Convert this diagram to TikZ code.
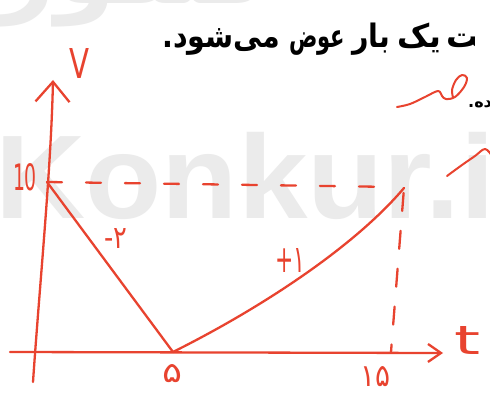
\documentclass[tikz,border=0pt]{standalone}
\usepackage{fontspec}
\usepackage{graphicx}
\usetikzlibrary{arrows.meta}
\TeXXeTstate=1
\setmainfont{DejaVu Sans}
\newfontfamily\arabicfont[Script=Arabic]{DejaVu Sans}
\newfontfamily\markfont{Liberation Sans}
\definecolor{penred}{HTML}{E8432F}
\definecolor{markgray}{HTML}{EBEBEB}
\newcommand{\hand}[3]{\resizebox{#1pt}{#2pt}{#3}}
\newcommand{\bookword}[2]{\resizebox{#1pt}{31pt}{\rule{0pt}{24pt}\arabicfont\bfseries\fontsize{25}{25}\selectfont\beginR #2\endR}}

\begin{document}
\begin{tikzpicture}[x=1pt, y=-1pt]
	% Styles
	\tikzstyle{pen} = [draw=penred, line width=2.3pt, line cap=round, line join=round]
	\tikzstyle{guide} = [pen, dash pattern=on 15pt off 24pt]
	\tikzstyle{axis} = [pen, -{Straight Barb[length=13pt,width=18pt]}]
	\tikzstyle{label} = [text=penred, inner sep=0pt]
	\tikzstyle{print} = [inner sep=0pt, anchor=base west]
	\useasboundingbox (0,0) rectangle (490,396);
	\fill[white] (0,0) rectangle (490,396);

	% Watermarks
	\node[inner sep=0pt, anchor=base west, text=markgray, font=\markfont\bfseries\fontsize{119}{119}\selectfont] (wmain) at (-5,218) {\scalebox{1.05}[1]{Konkur.in}};
	\node[inner sep=0pt, anchor=base east, text=markgray] (wtop) at (268,4) {\resizebox{268pt}{!}{\arabicfont\bfseries\beginR کنکور\endR}};

	% Book text
	\node[print] (w1) at (162,47) {\bookword{118}{می‌شود.}};
	\node[print] (w2) at (289,47) {\bookword{56}{عوض}};
	\node[print] (w3) at (352,47) {\bookword{38}{بار}};
	\node[print] (w4) at (397,47) {\bookword{44}{یک}};
	\begin{scope}
		\clip (0,0) rectangle (474,80);
		\node[print] (w5) at (446,47) {\bookword{80}{جهت}};
	\end{scope}
	\node[print, font=\arabicfont\bfseries\fontsize{16}{16}\selectfont] (line2) at (468,107) {\beginR شده.\endR};

	% Points
	\coordinate (vbot) at (33,382);
	\coordinate (vtop) at (53,80);
	\coordinate (hleft) at (10,352);
	\coordinate (hright) at (443,353);
	\coordinate (A) at (47,182);
	\coordinate (B) at (173,352);
	\coordinate (C) at (404,188);
	\coordinate (Cdash) at (396,187);
	\coordinate (Cfoot) at (391,352);

	% Axes
	\draw[pen, -{Straight Barb[length=20pt,width=34pt]}] (vbot) .. controls (40,280) and (51,170) .. (vtop);
	\draw[axis] (hleft) -- (hright);

	% Graph
	\draw[guide] (A) -- (Cdash);
	\draw[guide, dash pattern=on 18pt off 20pt, dash phase=-5pt] (C) -- (Cfoot);
	\draw[pen] (A) -- (B);
	\draw[pen] (B) .. controls (263,307) and (355,246) .. (C);

	% Labels
	\node[label] (vlab) at (80,63) {\hand{20}{30}{V}};
	\node[label] (tlab) at (467,340) {\hand{26}{28}{t}};
	\node[label] (ten) at (25,177) {\hand{24}{27}{10}};
	\node[label] (slope1) at (116,238) {\hand{23}{20}{-{\arabicfont ۲}}};
	\node[label] (slope2) at (290,260) {\hand{30}{24}{+{\arabicfont ۱}}};
	\node[label] (five) at (172,374) {\hand{20}{18}{\arabicfont ۵}};
	\node[label] (fifteen) at (375,377) {\hand{30}{20}{\arabicfont ۱۵}};

	% Scribbles
	\draw[pen, line width=2pt] plot[smooth, tension=0.6] coordinates {(397,107) (410,104) (425,97) (438,91) (442,96) (446,99) (455,97) (464,87) (467,78) (462,75) (456,80) (452,90) (453,97)};
	\draw[pen, line width=2pt] plot[smooth, tension=0.6] coordinates {(447,176) (462,165) (475,156) (485,149) (492,156)};
\end{tikzpicture}
\end{document}
